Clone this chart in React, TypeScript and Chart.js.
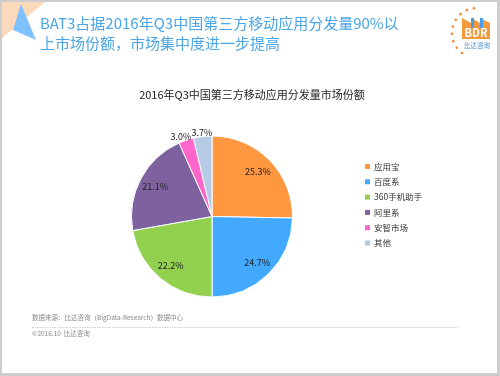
import React, { useEffect, useRef } from 'react';
import { Chart, registerables } from 'chart.js';
Chart.register(...registerables);

const categories = ['应用宝', '百度系', '360手机助手', '阿里系', '安智市场', '其他'];
const shares = [25.3, 24.7, 22.2, 21.1, 3.0, 3.7];
const colors = ['#ff9640', '#42a9fe', '#92d050', '#7e62a0', '#ff66cc', '#b5cae4'];
const chartTitle = '2016年Q3中国第三方移动应用分发量市场份额';
const headerLines = ['BAT3占据2016年Q3中国第三方移动应用分发量90%以', '上市场份额，市场集中度进一步提高'];
const sourceNote = '数据来源：比达咨询（BigData-Research）数据中心';
const copyright = '©2016.10  比达咨询';
const logoText = 'BDR';
const logoSub = '比达咨询';

const FONT = '"Noto Sans CJK SC", "Microsoft YaHei", sans-serif';

const decorPlugin = {
  id: 'decor',
  beforeDraw(chart: any) {
    const ctx = chart.ctx as CanvasRenderingContext2D;
    const W = chart.width, H = chart.height;
    ctx.save();
    ctx.fillStyle = '#cdcdcd';
    ctx.fillRect(0, 0, W, H);
    ctx.fillStyle = '#ffffff';
    ctx.fillRect(2, 2, W - 5, H - 5);
    // corner decorations
    ctx.fillStyle = '#fdd9bb';
    ctx.beginPath();
    ctx.moveTo(2, 2); ctx.lineTo(45, 2); ctx.lineTo(2, 38); ctx.closePath(); ctx.fill();
    ctx.fillStyle = '#80c1ff';
    ctx.beginPath();
    ctx.moveTo(21, 4); ctx.lineTo(13, 30); ctx.lineTo(36, 40); ctx.closePath(); ctx.fill();
    // header
    ctx.fillStyle = '#4aa6e6';
    ctx.font = `15px ${FONT}`;
    ctx.textBaseline = 'middle';
    ctx.textAlign = 'left';
    ctx.fillText(headerLines[0], 40, 23);
    ctx.fillText(headerLines[1], 40, 43);
    // logo
    ctx.fillStyle = '#f08a2c';
    for (let a = -95; a <= 150; a += 17) {
      const r = (a * Math.PI) / 180;
      const cx = 477 - 25 * Math.sin(r);
      const cy = 33 - 25 * Math.cos(r);
      if (cx > 478) continue;
      ctx.beginPath(); ctx.arc(cx, cy, 1.3, 0, Math.PI * 2); ctx.fill();
    }
    ctx.fillStyle = '#f39a3e';
    ctx.beginPath();
    ctx.moveTo(462, 39); ctx.lineTo(462, 18); ctx.lineTo(471, 23); ctx.lineTo(471, 18);
    ctx.lineTo(480, 23); ctx.lineTo(480, 18); ctx.lineTo(490, 23); ctx.lineTo(490, 39);
    ctx.closePath(); ctx.fill();
    ctx.fillStyle = '#4a9ce8';
    ctx.fillRect(471, 18, 3, 10);
    ctx.fillRect(480, 18, 3, 10);
    ctx.fillStyle = '#ffffff';
    ctx.font = `bold 11px ${FONT}`;
    ctx.textAlign = 'center';
    ctx.fillText(logoText, 476, 33);
    ctx.fillStyle = '#4a8fd6';
    ctx.font = `6.5px ${FONT}`;
    ctx.fillText(logoSub, 477, 46);
    // chart title
    ctx.fillStyle = '#222222';
    ctx.font = `11px ${FONT}`;
    ctx.fillText(chartTitle, 252, 95);
    // legend
    ctx.textAlign = 'left';
    ctx.font = `8.5px ${FONT}`;
    categories.forEach((c, i) => {
      const y = 166.5 + i * 15.3;
      ctx.fillStyle = colors[i];
      ctx.fillRect(365, y - 2.5, 5, 5);
      ctx.fillStyle = '#333333';
      ctx.fillText(c, 374, y);
    });
    // footer
    ctx.fillStyle = '#8a8a8a';
    ctx.font = `6.5px ${FONT}`;
    ctx.fillText(sourceNote, 32, 318);
    ctx.fillText(copyright, 32, 334);
    ctx.strokeStyle = '#bbbbbb';
    ctx.lineWidth = 0.7;
    ctx.setLineDash([1.5, 1]);
    ctx.beginPath(); ctx.moveTo(32, 327.5); ctx.lineTo(458, 327.5); ctx.stroke();
    ctx.restore();
  },
};

const labelPlugin = {
  id: 'pctLabels',
  afterDatasetsDraw(chart: any) {
    const ctx = chart.ctx as CanvasRenderingContext2D;
    const meta = chart.getDatasetMeta(0);
    ctx.save();
    ctx.fillStyle = '#222222';
    ctx.font = `9px ${FONT}`;
    ctx.textAlign = 'center';
    ctx.textBaseline = 'middle';
    meta.data.forEach((arc: any, i: number) => {
      const p = arc.getProps(['x', 'y', 'startAngle', 'endAngle', 'outerRadius'], true);
      const mid = (p.startAngle + p.endAngle) / 2;
      const small = shares[i] < 5;
      const d = small ? p.outerRadius * 1.09 : p.outerRadius * 0.8;
      const x = p.x + Math.cos(mid) * d - (i === 4 ? 3 : 0);
      const y = p.y + Math.sin(mid) * d + (small ? 3 : 0);
      ctx.fillText(shares[i].toFixed(1) + '%', x, y);
    });
    ctx.restore();
  },
};

export default function App() {
  const ref = useRef<HTMLCanvasElement>(null);
  useEffect(() => {
    if (!ref.current) return;
    const chart = new Chart(ref.current, {
      type: 'pie',
      data: {
        labels: categories,
        datasets: [{
          data: shares,
          backgroundColor: colors,
          borderColor: '#ffffff',
          borderWidth: 1,
        }],
      },
      options: {
        responsive: false,
        animation: false,
        rotation: 0,
        layout: { padding: { left: 131, right: 207, top: 135, bottom: 78 } },
        plugins: { legend: { display: false }, title: { display: false }, tooltip: { enabled: false } },
      },
      plugins: [decorPlugin, labelPlugin],
    });
    return () => chart.destroy();
  }, []);
  return (
    <div style={{ position: 'absolute', left: 0, top: 0, width: 500, height: 376 }}>
      <canvas ref={ref} width={500} height={376} />
    </div>
  );
}
